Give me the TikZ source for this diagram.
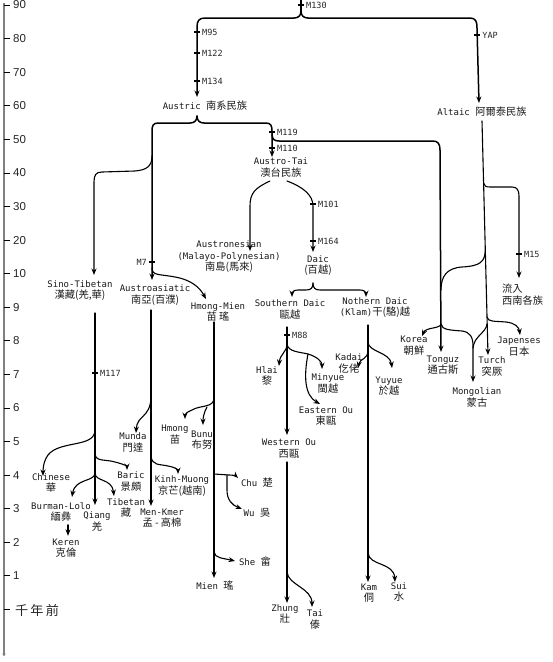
\documentclass[tikz,border=0pt]{standalone}
\usepackage{fontspec}
\setmainfont{DejaVu Sans Mono}
\newfontfamily\cjk[Scale=1.14]{Noto Sans CJK TC}
\newfontfamily\axfont{Liberation Sans}
\usetikzlibrary{arrows.meta,calc}
\tikzset{
  br/.style={line width=1.1pt, line cap=round, line join=round},
  brh/.style={br, line width=1.5pt},
  arr/.style={br, -{Stealth[length=6.5pt,width=5pt]}},
  arrh/.style={brh, -{Stealth[length=6.5pt,width=5pt]}},
  lbl/.style={font=\fontsize{9}{11.5}\selectfont, align=center, inner sep=0pt, text=black!90},
  mk/.style={font=\fontsize{8.5}{10}\selectfont, inner sep=0pt, text=black!85, anchor=west},
  tk/.style={line width=1.1pt},
  axl/.style={font=\axfont\fontsize{11.5}{12}\selectfont, inner sep=0pt, anchor=west, text=black!85},
}
\newcommand\mrk[4]{\draw[tk] (#1-3,#2) -- (#1+3,#2); \node[mk] (#3) at (#1+5,#2) {#4};}
\begin{document}
\begin{tikzpicture}[x=1pt,y=-1pt]
\useasboundingbox (0,0) rectangle (553,662);
% axis
\draw[line width=1.3pt, draw=black!50, -{To[length=3pt,width=3pt]}] (4,3) -- (4,656);
\foreach \i in {0,...,18} \draw[line width=0.8pt] (4,5+33.58*\i) -- (10,5+33.58*\i);
\foreach \v [count=\i from 0] in {90,80,70,60,50,40,30,20,10,9,8,7,6,5,4,3,2,1}
  \node[axl] (ax\i) at (13,5+33.58*\i) {\v};
\node[axl] (axk) at (15,610) {\cjk 千\,年\,前};

% top
\coordinate (top) at (301,0);
\coordinate (topb) at (301,11);
\draw[br] (top) -- (topb);
\mrk{301}{5}{m130}{M130}
\draw[arrh] (topb) .. controls (301,16) and (298,18) .. (294,18) -- (205,18) .. controls (199,18) and (197,21) .. (197,27) -- (197,97);
\draw[arrh] (topb) .. controls (301,16) and (304,18) .. (308,18) -- (470,18) .. controls (476,18) and (477,22) .. (477,28) -- (479,103);
\mrk{197}{32}{m95}{M95}
\mrk{197}{53}{m122}{M122}
\mrk{197}{81}{m134}{M134}
\mrk{477.2}{35}{yap}{YAP}

\node[lbl] (austric) at (205,106) {Austric {\cjk 南系民族}};
\node[lbl] (altaic) at (482,112) {Altaic {\cjk 阿爾泰民族}};

% Austric brace
\coordinate (ausb) at (197,116);
\draw[arrh] (ausb) .. controls (197,121) and (194,123) .. (190,123) -- (158,123) .. controls (153,123) and (152,126) .. (152,131) -- (152,280);
\draw[arrh] (ausb) .. controls (197,121) and (200,123) .. (204,123) -- (266,123) .. controls (271,123) and (272,126) .. (272,131) -- (272,157);
\mrk{272}{132}{m119}{M119}
\mrk{272}{148}{m110}{M110}
% Sino-Tibetan branch
\draw[arr] (152,156) .. controls (152,166) and (147,170) .. (135,171) -- (102,172) .. controls (96,172) and (94,175) .. (94,182) -- (94,275);
% right branch to Korea/Tonguz
\draw[arrh] (272,134) .. controls (272,139) and (274,141) .. (279,141) -- (433,141) .. controls (438,141) and (440,144) .. (440,150) -- (441,352);

% Altaic
\draw[arr] (482,121) -- (488,355);
\draw[arr] (483.6,183) .. controls (484,186) and (486,187) .. (490,187) -- (512,187) .. controls (517,187) and (519,190) .. (519,196) -- (519,278);
\mrk{519}{254}{m15}{M15}
\draw[br] (485.3,250) .. controls (485,262) and (480,266) .. (462,267) .. controls (447,268) and (441,276) .. (441,290);
\draw[arr] (441,324) .. controls (440,329) and (426,327) .. (422,336);
\draw[arr] (441,324) .. controls (442,330) and (450,330) .. (462,331) .. controls (470,332) and (473,337) .. (473,346) -- (473,382);
\draw[br] (487,324) .. controls (486,333) and (474,336) .. (473,348);
\draw[arr] (487,317) .. controls (488,322) and (494,321) .. (506,322) .. controls (515,323) and (519,327) .. (520,335);

\node[lbl, align=left, anchor=west] (liuru) at (502,294.5) {{\cjk 流入}\\{\cjk 西南各族}};
\node[lbl] (korea) at (414,345.5) {Korea\\{\cjk 朝鮮}};
\node[lbl] (tonguz) at (443,365) {Tonguz\\{\cjk 通古斯}};
\node[lbl] (turch) at (492,366.5) {Turch\\{\cjk 突厥}};
\node[lbl] (japan) at (519,346.5) {Japenses\\{\cjk 日本}};
\node[lbl] (mongol) at (477,397.5) {Mongolian\\{\cjk 蒙古}};

% Austro-Tai
\node[lbl] (austrotai) at (281,167.5) {Austro-Tai\\{\cjk 澳台民族}};
\draw[arr] (270,181) .. controls (255,188) and (250,193) .. (250,206) -- (250,251);
\draw[arr] (287,181) .. controls (303,187) and (313,195) .. (313,206) -- (313,252);
\mrk{313}{204}{m101}{M101}
\mrk{313}{241}{m164}{M164}
\node[lbl] (austronesian) at (229,257) {Austronesian\\(Malayo-Polynesian)\\{\cjk 南島(馬來)}};
\node[lbl] (daic) at (318,265.5) {Daic\\{\cjk (百越)}};

% Daic brace
\coordinate (daicb) at (313,283);
\draw[arr] (daicb) .. controls (313,288) and (311,290) .. (306,290) -- (298,290) .. controls (294,290) and (292,292) .. (292,297);
\draw[arr] (daicb) .. controls (313,288) and (315,290) .. (320,290) -- (360,290) .. controls (364,290) and (366,292) .. (366,297);
\node[lbl] (sdaic) at (290,309.5) {Southern Daic\\{\cjk 甌越}};
\node[lbl] (ndaic) at (375,307.5) {Nothern Daic\\(Klam){\cjk 干(駱)越}};

% Southern Daic
\draw[arr] (287,327) -- (287,435);
\mrk{287}{335}{m88}{M88}
\draw[arr] (287,344) .. controls (287,352) and (280,354) .. (279,366);
\draw[arr] (287,344) .. controls (288,352) and (300,352) .. (308,354) .. controls (318,357) and (322,362) .. (322,369);
\draw[arr] (308,354) .. controls (304,375) and (304,395) .. (320,404);
\node[lbl] (hlai) at (267,376) {Hlai\\{\cjk 黎}};
\node[lbl] (minyue) at (328,383.5) {Minyue\\{\cjk 閩越}};
\node[lbl] (eastou) at (326,416) {Eastern Ou\\{\cjk 東甌}};
\node[lbl] (westou) at (289,448.5) {Western Ou\\{\cjk 西甌}};
\draw[arr] (287,462) -- (287,603);
\draw[arr] (287,572) .. controls (288,585) and (312,588) .. (312,607);
\node[lbl] (zhung) at (285,614) {Zhung\\{\cjk 壯}};
\node[lbl] (tai) at (315,619.5) {Tai\\{\cjk 傣}};

% Northern Daic
\draw[arr] (368,325) -- (368,582);
\draw[arr] (368,350) .. controls (368,360) and (360,358) .. (358,368);
\draw[arr] (368,342) .. controls (368,352) and (390,352) .. (392,368);
\draw[arr] (368,553) .. controls (369,566) and (394,562) .. (395,582);
\node[lbl] (kadai) at (349,363.5) {Kadai\\{\cjk 仡佬}};
\node[lbl] (yuyue) at (389,386) {Yuyue\\{\cjk 於越}};
\node[lbl] (kam) at (369,593) {Kam\\{\cjk 侗}};
\node[lbl] (sui) at (399,592) {Sui\\{\cjk 水}};

% Austroasiatic / Hmong-Mien
\draw[tk] (149,262) -- (155,262);
\node[mk, anchor=east] (m7) at (147,262) {M7};
\draw[arr] (152,268) .. controls (152,276) and (160,274) .. (175,277) .. controls (192,280) and (200,288) .. (206,299);
\node[lbl] (sino) at (80,290.5) {Sino-Tibetan\\{\cjk 漢藏(羌,華)}};
\node[lbl] (austroas) at (155,295) {Austroasiatic\\{\cjk 南亞(百濮)}};
\node[lbl] (hmongmien) at (218,312) {Hmong-Mien\\{\cjk 苗 瑤}};

\draw[arr] (151,310) -- (151,506);
\draw[arr] (151,398) .. controls (150,418) and (137,415) .. (136,433);
\draw[arr] (151,456) .. controls (152,466) and (160,464) .. (168,466) .. controls (175,467) and (178,470) .. (178,474);
\node[lbl] (munda) at (133,442.5) {Munda\\{\cjk 門達}};
\node[lbl] (kinh) at (182,486) {Kinh-Muong\\{\cjk 京芒(越南)}};
\node[lbl] (menkmer) at (162,518) {Men-Kmer\\{\cjk 孟 - 高棉}};

\draw[arr] (214,322) -- (214,578);
\draw[arr] (214,398) .. controls (214,408) and (200,405) .. (192,410) .. controls (187,412) and (185,414) .. (185,419);
\draw[arr] (207,407) .. controls (204,412) and (203,418) .. (203,425);
\draw[arr] (214,474) -- (229,475) .. controls (233,475) and (236,476) .. (238,478);
\draw[arr] (227,475) -- (227,490) .. controls (227,500) and (232,505) .. (242,509);
\draw[arr] (214,552) .. controls (215,558) and (222,558) .. (235,561);
\node[lbl] (hmong) at (175,434.5) {Hmong\\{\cjk 苗}};
\node[lbl] (bunu) at (202,440) {Bunu\\{\cjk 布努}};
\node[lbl] (chu) at (257,483) {Chu {\cjk 楚}};
\node[lbl] (wu) at (257,513) {Wu {\cjk 吳}};
\node[lbl] (she) at (255,562) {She {\cjk 畲}};
\node[lbl] (mien) at (215,586) {Mien {\cjk 瑤}};

% Sino-Tibetan
\draw[arr] (95,313) -- (95,505);
\mrk{95}{373}{m117}{M117}
\draw[arr] (95,430) .. controls (95,448) and (60,440) .. (48,455) .. controls (43,462) and (43,470) .. (43,476);
\draw[arr] (95,454) .. controls (96,462) and (105,459) .. (115,462) .. controls (123,464) and (127,466) .. (127,470);
\draw[arr] (95,473) .. controls (95,482) and (75,478) .. (72,497);
\draw[arr] (95,473) .. controls (95,482) and (112,478) .. (114,496);
\node[lbl] (chinese) at (51,483) {Chinese\\{\cjk 華}};
\node[lbl] (baric) at (131,481.5) {Baric\\{\cjk 景頗}};
\node[lbl] (burman) at (61,512) {Burman-Lolo\\{\cjk 緬彝}};
\node[lbl] (qiang) at (97,521.5) {Qiang\\{\cjk 羌}};
\node[lbl] (tibetan) at (126,508) {Tibetan\\{\cjk 藏}};
\node[lbl] (keren) at (66,548) {Keren\\{\cjk 克倫}};
\draw[arr] (burman.south) ++(7,3) -- ++(0,11);
\end{tikzpicture}
\end{document}
